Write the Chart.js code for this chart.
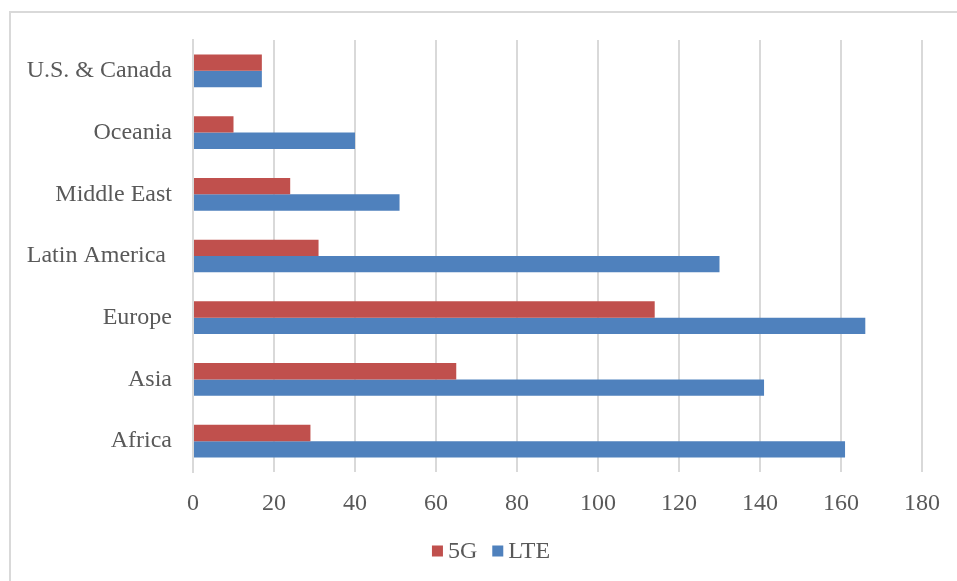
<!DOCTYPE html>
<html>
<head>
<meta charset="utf-8">
<script src="https://cdn.jsdelivr.net/npm/chart.js@4/dist/chart.umd.min.js"></script>
<style>
  html, body { margin: 0; padding: 0; background: #ffffff; }
  #wrap { position: relative; width: 957px; height: 581px; overflow: hidden; }
  #frame {
    position: absolute; left: 9px; top: 11px; width: 1000px; height: 620px;
    border: 2px solid #d9d9d9; box-sizing: border-box;
  }
  #chart { position: absolute; left: 0; top: 0; }
</style>
</head>
<body>
<div id="wrap">
  <div id="frame"></div>
  <canvas id="chart" width="957" height="581"></canvas>
</div>
<script>
// Regions listed top to bottom
const regions = ['U.S. & Canada', 'Oceania', 'Middle East', 'Latin America ', 'Europe', 'Asia', 'Africa'];
const seriesNames = ['5G', 'LTE'];
const values5G  = [17, 10, 24, 31, 114, 65, 29];
const valuesLTE = [17, 40, 51, 130, 166, 141, 161];
const xTicksMax = 180;
const xTickStep = 20;

const textColor = '#595959';
const gridColor = '#d9d9d9';
const fontFamily = '"Liberation Serif", "Times New Roman", serif';
const fontSpec = { family: fontFamily, size: 24 };

// Compact legend row: small square swatch sitting close to its label
const compactLegend = {
  id: 'compactLegend',
  afterDraw(chart) {
    const ctx = chart.ctx;
    const box = 11, gap = 5, itemGap = 15;
    ctx.save();
    ctx.font = `${fontSpec.size}px ${fontFamily}`;
    ctx.textBaseline = 'middle';
    ctx.textAlign = 'left';
    const items = chart.data.datasets.map(ds => ({
      text: ds.label, color: ds.backgroundColor, w: box + gap + ctx.measureText(ds.label).width
    }));
    const total = items.reduce((s, it) => s + it.w, 0) + itemGap * (items.length - 1);
    let x = 491 - total / 2;
    const cy = 551;
    items.forEach(it => {
      ctx.fillStyle = it.color;
      ctx.fillRect(x, cy - box / 2, box, box);
      ctx.fillStyle = textColor;
      ctx.fillText(it.text, x + box + gap, cy + 1);
      x += it.w + itemGap;
    });
    ctx.restore();
  }
};

new Chart(document.getElementById('chart'), {
  type: 'bar',
  data: {
    labels: regions,
    datasets: [
      { label: seriesNames[0], data: values5G,  backgroundColor: '#C0504D', borderWidth: 0 },
      { label: seriesNames[1], data: valuesLTE, backgroundColor: '#4F81BD', borderWidth: 0 }
    ]
  },
  plugins: [compactLegend],
  options: {
    indexAxis: 'y',
    responsive: false,
    animation: false,
    devicePixelRatio: 1,
    layout: { padding: { top: 40, right: 34, bottom: 0, left: 0 } },
    datasets: { bar: { categoryPercentage: 0.53, barPercentage: 1.0 } },
    plugins: {
      tooltip: { enabled: false },
      legend: { display: false }
    },
    scales: {
      x: {
        min: 0,
        max: xTicksMax,
        ticks: { stepSize: xTickStep, color: textColor, font: fontSpec, padding: 17 },
        grid: { color: gridColor, lineWidth: 2, drawTicks: false },
        border: { display: false },
        afterFit(scale) { scale.height = 109; }
      },
      y: {
        ticks: { color: textColor, font: fontSpec, padding: 21 },
        grid: { display: false, drawTicks: false },
        border: { display: true, color: gridColor, width: 2 },
        afterFit(scale) { scale.width = 193; }
      }
    }
  }
});
</script>
</body>
</html>
